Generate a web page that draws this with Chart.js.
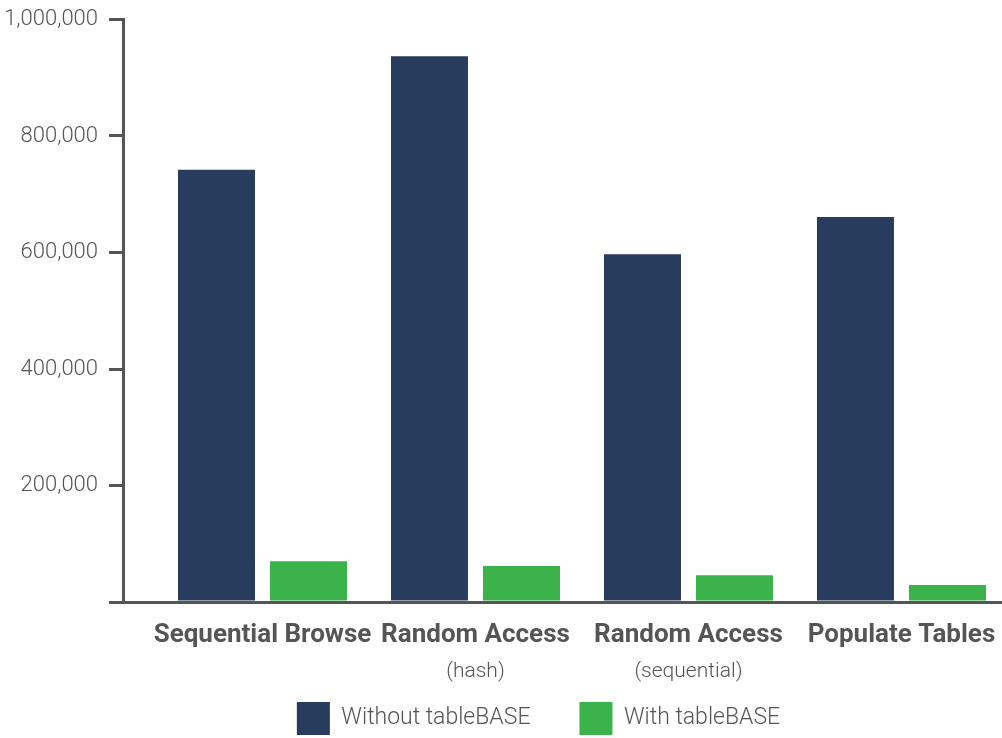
<!DOCTYPE html>
<html>
<head>
<meta charset="utf-8">
<script src="https://cdn.jsdelivr.net/npm/chart.js@4.4.1/dist/chart.umd.min.js"></script>
<style>
  html, body { margin: 0; padding: 0; background: #ffffff; overflow: hidden; }
  #wrap { width: 1002px; height: 738px; position: relative; }
</style>
</head>
<body>
<div id="wrap"><canvas id="c" width="1002" height="738"></canvas></div>
<script>
// ---- data ----
const categories = ["Sequential Browse", "Random Access", "Random Access", "Populate Tables"];
const subLabels = ["", "(hash)", "(sequential)", ""];
const seriesNames = ["Without tableBASE", "With tableBASE"];
const withoutTableBase = [742000, 937000, 597000, 661000];
const withTableBase = [70000, 62000, 46000, 29000];
const yTickValues = [0, 200000, 400000, 600000, 800000, 1000000];

// ---- style ----
const NAVY = "#283c5d";
const GREEN = "#3bb34a";
const AXIS = "#555555";
const TEXT = "#555555";
const FAMILY = "Roboto, 'DejaVu Sans Condensed', sans-serif";

const toPoints = arr => arr.map((v, i) => ({ x: i, y: v }));
const catTicks = () => categories.map((c, i) => ({ value: i }));
const X_MIN = -0.655, X_MAX = 3.472;

// shift the library's legend to where the reference has it
const legendPlacement = {
  id: "legendPlacement",
  afterLayout(chart) {
    const lg = chart.legend;
    if (!lg) return;
    lg.left += 75;
    lg.top -= 33;
  }
};

function fitX(height) {
  return s => { s.height = height; s.paddingLeft = 0; s.paddingRight = 0; };
}

new Chart(document.getElementById("c"), {
  type: "bar",
  data: {
    datasets: [
      { label: seriesNames[0], data: toPoints(withoutTableBase), backgroundColor: NAVY,
        categoryPercentage: 0.864, barPercentage: 0.837 },
      { label: seriesNames[1], data: toPoints(withTableBase), backgroundColor: GREEN,
        categoryPercentage: 0.864, barPercentage: 0.837 }
    ]
  },
  plugins: [legendPlacement],
  options: {
    responsive: false,
    animation: false,
    layout: { padding: { left: 0, right: 0, top: 19.5, bottom: 0 } },
    plugins: {
      tooltip: { enabled: false },
      legend: {
        position: "bottom",
        maxHeight: 52,
        labels: {
          boxWidth: 33, boxHeight: 33, padding: 49,
          color: TEXT,
          font: { family: FAMILY, size: 23, weight: "300" }
        }
      }
    },
    scales: {
      x: {
        type: "linear",
        position: "bottom",
        offset: false,
        weight: 0,
        min: X_MIN, max: X_MAX,
        afterBuildTicks: s => { s.ticks = catTicks(); },
        afterFit: fitX(52.5),
        grid: { display: false, drawTicks: false, offset: false },
        border: { display: true, width: 3, color: AXIS },
        ticks: {
          autoSkip: false, maxRotation: 0, minRotation: 0, padding: 18,
          color: TEXT,
          font: { family: FAMILY, size: 26, weight: "bold" },
          callback: v => categories[v] ?? ""
        }
      },
      x2: {
        type: "linear",
        position: "bottom",
        offset: false,
        weight: 1,
        min: X_MIN, max: X_MAX,
        afterBuildTicks: s => { s.ticks = catTicks(); },
        afterFit: fitX(31.5),
        grid: { display: false, drawTicks: false, offset: false },
        border: { display: false },
        ticks: {
          autoSkip: false, maxRotation: 0, minRotation: 0, padding: 5,
          color: TEXT,
          font: { family: FAMILY, size: 21, weight: "300" },
          callback: v => subLabels[v] ?? ""
        }
      },
      y: {
        min: 0, max: 1000000,
        afterBuildTicks: s => { s.ticks = yTickValues.map(v => ({ value: v })); },
        afterFit: s => { s.width = 123; s.paddingTop = 0; s.paddingBottom = 0; },
        grid: { drawOnChartArea: false, drawTicks: true, tickLength: 14, lineWidth: 3, color: AXIS },
        border: { display: true, width: 3, color: AXIS },
        ticks: {
          padding: 11,
          color: TEXT,
          font: { family: FAMILY, size: 22, weight: "300" },
          callback: v => v === 0 ? "" : v.toLocaleString("en-US")
        }
      }
    }
  }
});
</script>
</body>
</html>
